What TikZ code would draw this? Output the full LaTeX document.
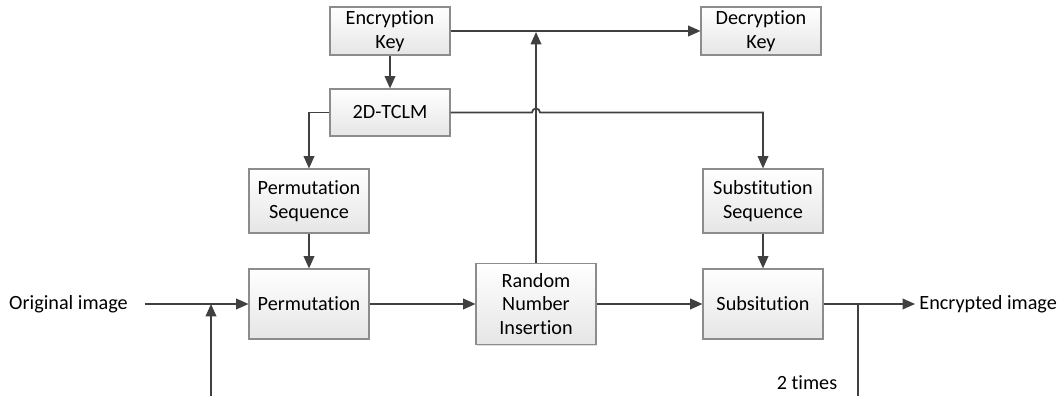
\documentclass[tikz,border=0pt]{standalone}
\usepackage{fontspec}
\setmainfont{Carlito}[Ligatures=NoCommon]
\usetikzlibrary{arrows.meta,shadows}
\definecolor{wire}{HTML}{404040}
\definecolor{rim}{HTML}{8C8C8C}
\tikzset{
  blk/.style={draw=rim, line width=0.6pt, top color=white, bottom color=black!10,
    drop shadow={shadow xshift=0.8pt, shadow yshift=-0.8pt, opacity=0.25},
    minimum width=2.4cm, minimum height=0.96cm, align=center, inner sep=2pt},
  lbl/.style={inner sep=2pt}
}
\newcommand{\block}[4]{%
 \node[blk, minimum height=#3] (#1) at (#2) {#4};%
}

\begin{document}
\begin{tikzpicture}[font=\fontsize{11.5}{13.5}\selectfont, line width=1pt,
  >={Triangle[length=7pt, width=6pt]}]
   \useasboundingbox (0,0) rectangle (21.14,-7.92);
   \block{enc}{7.80,-0.62}{0.96cm}{Encryption\\Key};
   \block{dec}{15.22,-0.62}{0.96cm}{Decryption\\Key};
   \block{tclm}{7.80,-2.25}{0.94cm}{2D-TCLM};
   \block{permseq}{6.18,-4.02}{1.28cm}{Permutation\\Sequence};
   \block{subseq}{15.26,-4.02}{1.28cm}{Substitution\\Sequence};
   \block{perm}{6.18,-6.08}{1.40cm}{Permutation};
   \block{rni}{10.72,-6.08}{1.62cm}{Random\\Number\\Insertion};
   \block{subst}{15.26,-6.08}{1.40cm}{Subsitution};
   \node[lbl] (orig) at (1.37,-6.08) {Original image};
   \node[lbl, anchor=west] (encimg) at (18.30,-6.08) {Encrypted image};
   \node[lbl] (times) at (16.14,-7.66) {2 times};
   \coordinate (split) at (17.16,-6.08);
   \coordinate (loopend) at (17.16,-7.92);
   \coordinate (loopin) at (4.22,-7.92);
   \coordinate (join) at (4.22,-6.08);
   \coordinate (keyline) at (10.72,-0.64);
   % key and chaos map
   \draw[->, wire] (enc) -- (dec);
   \draw[->, wire] (enc) -- (tclm);
   \draw[->, wire] (tclm.west) -| (permseq.north);
   \draw[->, wire] (tclm.east) -- (10.64,-2.25) arc (180:0:0.08) -| (subseq.north);
   \draw[->, wire] (rni.north) -- (keyline);
   % main path
   \draw[->, wire, shorten <=0.25cm] (orig) -- (perm);
   \draw[->, wire] (loopin) -- (join);
   \draw[->, wire] (permseq) -- (perm);
   \draw[->, wire] (perm) -- (rni);
   \draw[->, wire] (rni) -- (subst);
   \draw[->, wire] (subseq) -- (subst);
   \draw[->, wire] (subst) -- (encimg);
   \draw[wire] (split) -- (loopend);
\end{tikzpicture}
\end{document}
